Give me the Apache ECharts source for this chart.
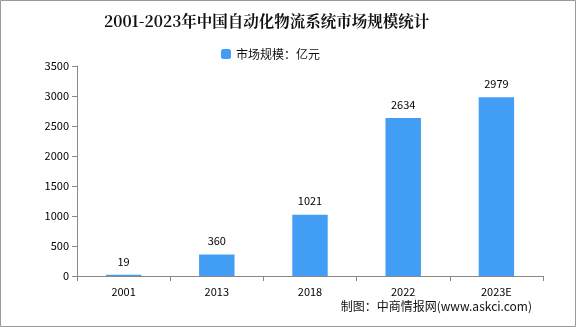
<!DOCTYPE html>
<html><head><meta charset="utf-8">
<script src="https://cdn.jsdelivr.net/npm/echarts@6/dist/echarts.min.js"></script>
<style>html,body{margin:0;padding:0;background:#fff}#c{width:576px;height:327px}</style>
</head><body><div id="c"></div>
<script>
var categories = ['2001','2013','2018','2022','2023E'];
var values = [19, 360, 1021, 2634, 2979];
var yTicks = [0, 500, 1000, 1500, 2000, 2500, 3000, 3500];
var chart = echarts.init(document.getElementById('c'));
chart.setOption({
  animation: false,
  title: {
    text: '2001-2023年中国自动化物流系统市场规模统计',
    left: 99, top: 8,
    textStyle: {fontFamily: 'Noto Serif CJK SC, Noto Sans CJK SC, serif', fontSize: 15.5, fontWeight: 'bold', color: '#111'}
  },
  legend: {
    data: ['市场规模：亿元'], top: 43, left: 216,
    itemWidth: 10, itemHeight: 10, itemGap: 4,
    textStyle: {fontFamily: 'Noto Sans CJK SC', fontSize: 12, color: '#111'}
  },
  grid: {left: 77, right: 33, top: 66, bottom: 51},
  xAxis: {
    type: 'category', data: categories,
    axisLine: {lineStyle: {color: '#888'}},
    axisTick: {show: true, lineStyle: {color: '#888'}},
    axisLabel: {color: '#000', fontSize: 11, fontFamily: 'Noto Sans CJK SC', margin: 10}
  },
  yAxis: {
    type: 'value', min: 0, max: 3500, interval: 500,
    axisLine: {show: true, lineStyle: {color: '#888'}},
    axisTick: {show: true, lineStyle: {color: '#888'}},
    splitLine: {show: false},
    axisLabel: {color: '#000', fontSize: 11, fontFamily: 'Noto Sans CJK SC', margin: 8,
      formatter: function (v) { return String(v); }}
  },
  series: [{
    name: '市场规模：亿元', type: 'bar', data: values, barWidth: '38%',
    itemStyle: {color: '#429df5'},
    label: {show: true, position: 'top', distance: 8, color: '#000', fontSize: 11, fontFamily: 'Noto Sans CJK SC'}
  }],
  graphic: [
    {type: 'rect', shape: {x: 0.5, y: 0.5, width: 575, height: 326}, style: {fill: 'none', stroke: '#999', lineWidth: 1}},
    {type: 'text', right: 44, top: 300, style: {text: '制图：中商情报网(www.askci.com)', fontSize: 12, fontFamily: 'Noto Sans CJK SC', fill: '#111'}}
  ]
});
</script></body></html>
